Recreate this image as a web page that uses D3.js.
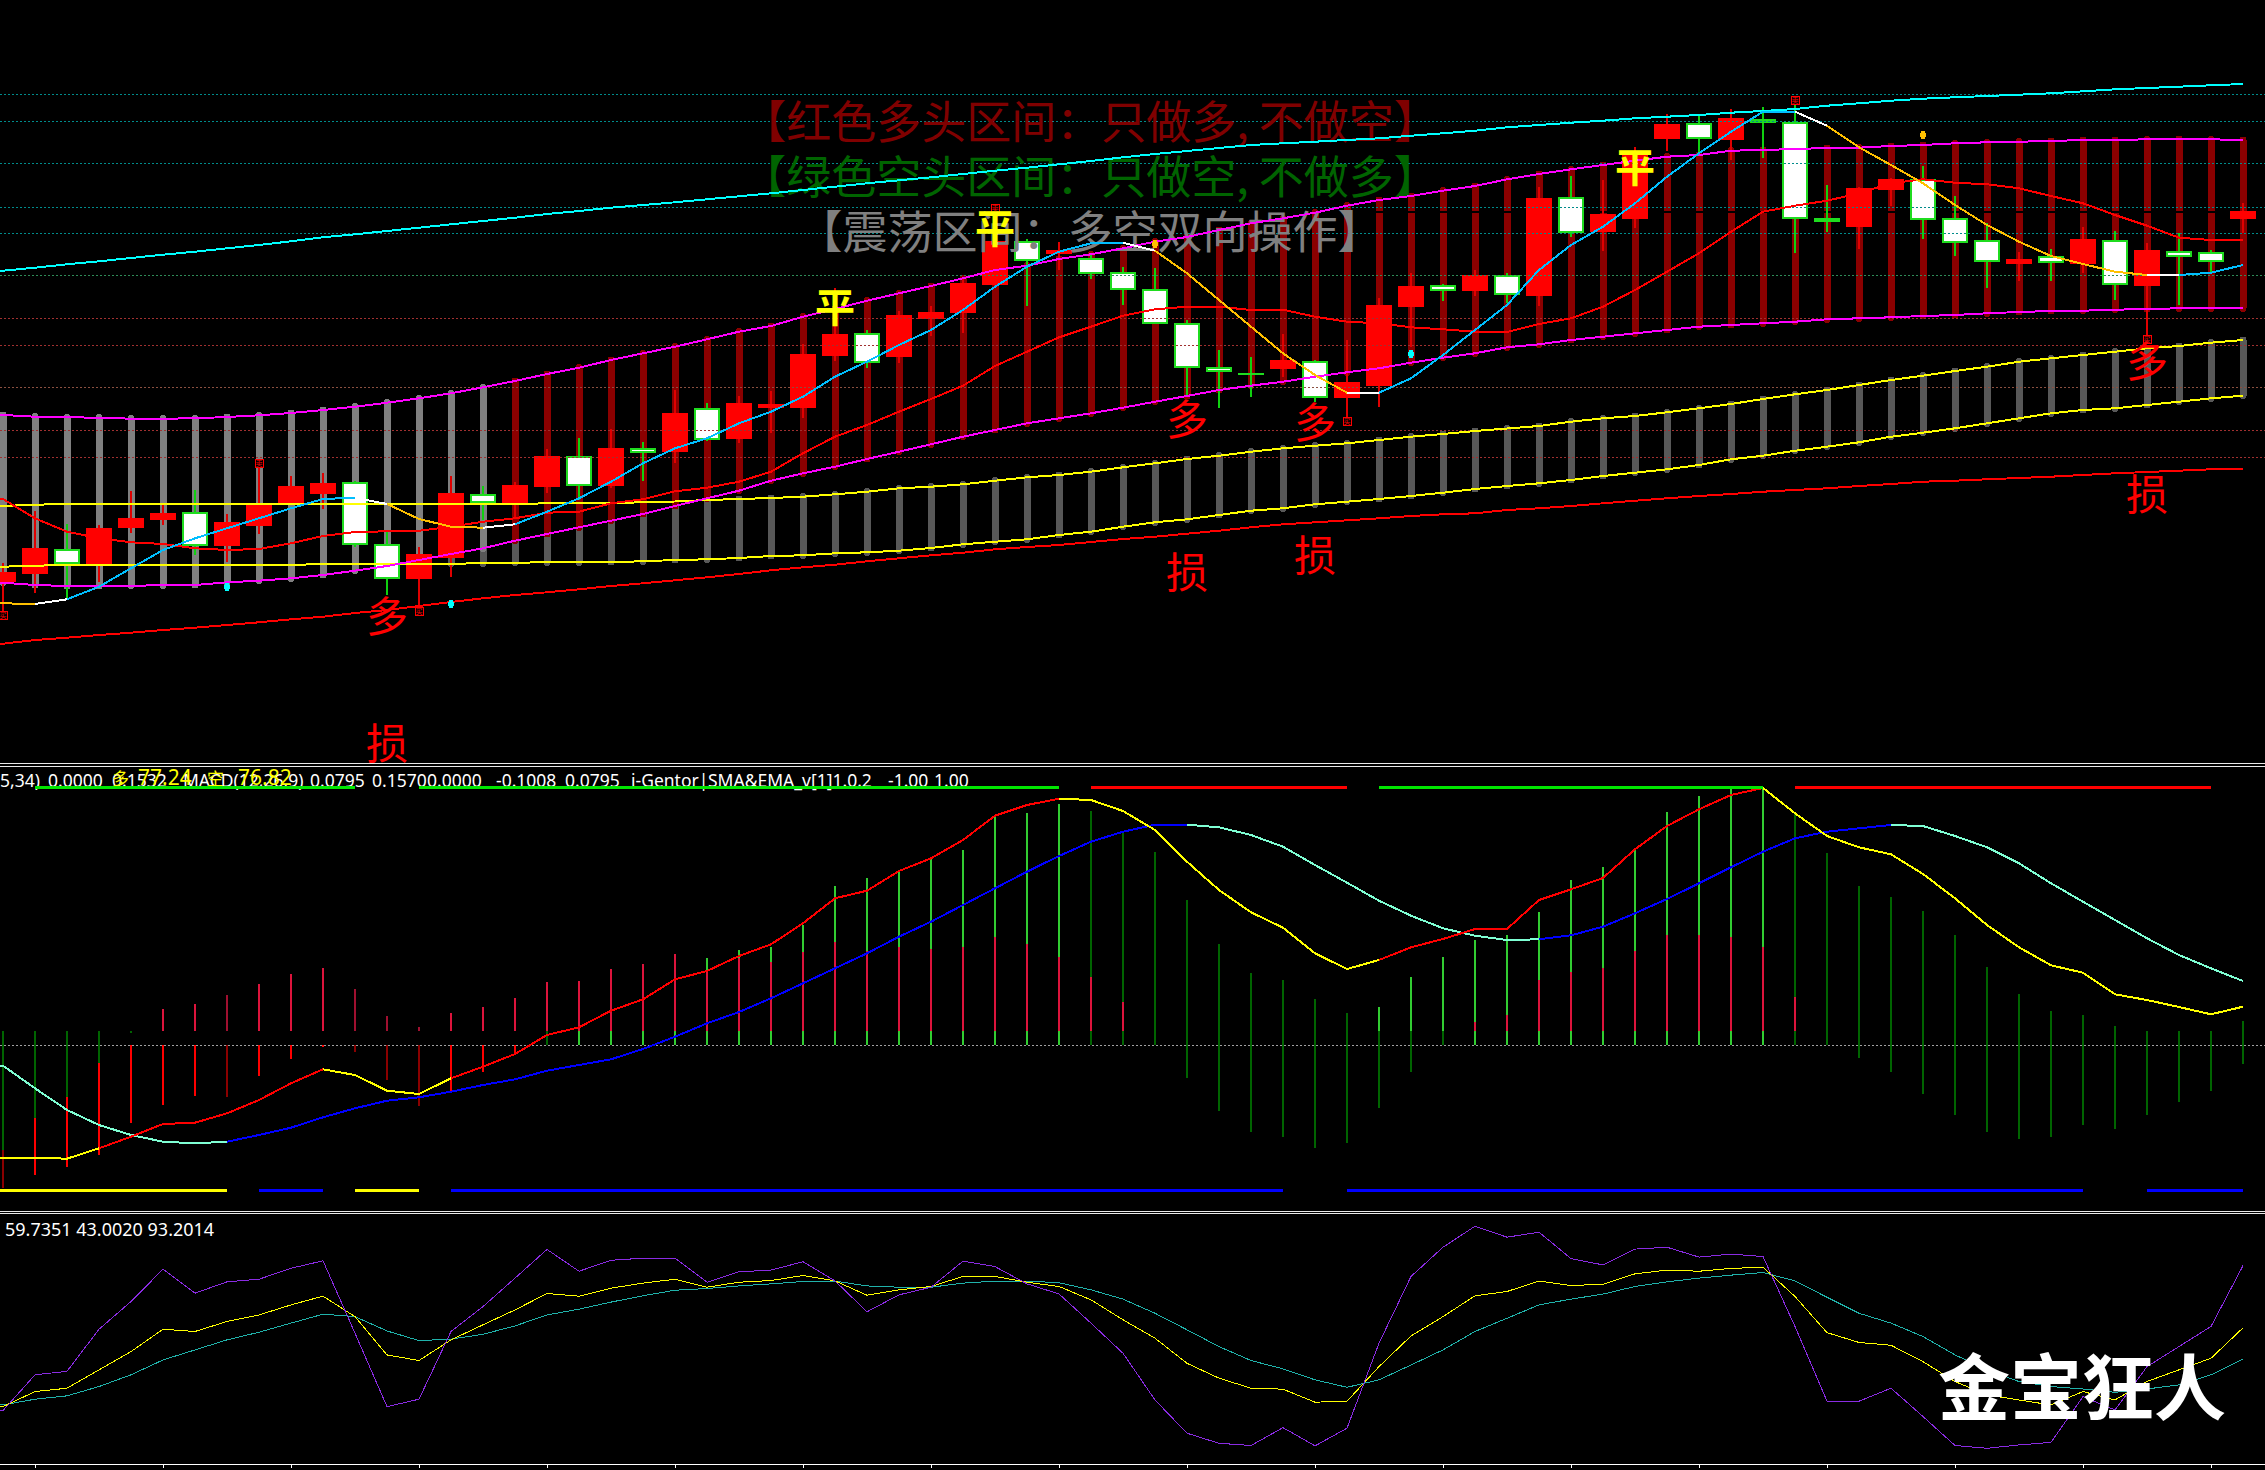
<!DOCTYPE html>
<html>
<head>
<meta charset="utf-8">
<title>金宝狂人</title>
<script src="https://cdn.jsdelivr.net/npm/d3@7"></script>
<style>
  html, body { margin: 0; padding: 0; background: #000; overflow: hidden; }
  svg { display: block; shape-rendering: crispEdges; }
</style>
</head>
<body>
<svg id="canvas" width="2265" height="1470"></svg>
<script>
"use strict"

// Candles (71 bars). Price unit is arbitrary, the reference has no price axis
const open = [
  182,190,213,200,236,244,250,218,238,260,
  270,280,218,185,206,268,259,277,306,278,
  314,312,354,325,356,356,408,429,407,445,
  451,479,521,510,504,490,473,439,395,389,
  395,401,366,378,457,477,473,487,468,565,
  532,545,625,639,624,643,640,544,537,574,
  583,544,522,500,506,500,522,478,511,510,545];
const close = [
  190,214,200,234,244,249,218,240,258,276,
  279,219,185,208,269,261,277,306,278,314,
  311,349,324,359,358,408,428,401,447,450,
  479,521,503,512,490,474,440,396,392,388.5,
  402,366,380,457,476,473,487,469,564,531,
  548,610,638,625,644,641,545,542,574,583,
  544,521,502,503,501,523,479,512,507,502,551];
const high = [
  200,252,239,238,272,258,273,249,298,287,
  290,282,231,216,287,277,281,314,325,334,
  321,373,360,367,372,419,475,433,452,457,
  486,556,524,521,510,496,495,443,413,406,
  429,403,423,465,490,479,493,490,576,587,
  583,616,649,648,654,656,660,578,576,585,
  597,567,540,511,514,536,532,520,530,513,560];
const low = [
  150,170,164,181,230,238,208,201,229,260,
  254,216,168,156,186,243,246,270,263,275,
  282,300,322,320,330,345,402,395,400,427,
  430,476,457,493,484,458,440,366,355,366,
  386,361,343,356,416,462,467,460,457,526,
  512,535,612,608,603,605,510,531,514,557,
  524,507,475,482,482,490,463,426,458,490,530];

// Channel lines on the price pane
const cyanLine = [
  492.3,495.3,498.7,501.7,505,508.3,511.3,514.7,518,521.7,
  525.7,528.7,532,535.3,538.7,542,545.3,549,552,555.3,
  558,560.7,563.7,566.7,569.7,573,576.3,579.7,582.7,585.7,
  589,592.3,595.3,598.7,602,605.7,609,612,615,618,
  619.7,621.3,623,624.7,627.3,629.7,632.3,635.7,638,640.3,
  642.3,644.7,646.3,648,650.3,652,654,657.3,659.7,662.3,
  664.3,665.7,667,668.3,669.7,671.7,673.7,675,676.3,677.7,679];
const bandUpper = [
  348,346.3,345.7,345.3,344.3,344.3,344.7,346,347.7,350,
  353,356.3,360.3,364.7,369.7,375.7,382,389,395.3,403,
  409.7,416.3,423.7,431.3,437,446.3,454,462.3,469.7,477,
  484.7,493,497.3,504,508.7,514.7,521.3,526,533,539.7,
  544.7,550.3,557.3,563,567,572.3,577,583.7,589,593.7,
  598,602.3,606.3,608,612.3,613,614,615,615.3,617,
  618,619.7,620.7,621.3,622,623,623,623.7,624,623.7,623];
const bandLower = [
  180.3,178,177,177,177.3,177.7,178,180.7,182.3,184.7,
  188,192.3,197,203,209,214.7,222.3,229,235.7,242.3,
  249,257,264.7,272.3,282.3,289.7,296.3,304,311.3,318.7,
  326.3,333,339.7,344.7,349.7,355.3,361.3,367,373,377.3,
  381.3,386.3,390.7,394.7,400.3,405.3,409.7,415.7,418.7,423,
  426.3,429.7,433,436.3,438,439.7,441.3,443.7,444.7,445.7,
  447,448,449.7,451,452,452.3,453.3,454,454.7,454.7,454.7];
const yellowUpper = [
  257,258.3,259,259,259,259,259,259,259,259,
  259,259,259,259,259,259,259,259.7,260,260,
  260.7,261.5,263,264,265,266.3,268.7,271.3,274.7,276.3,
  278.7,282.3,285.7,288,291.3,295.7,299.7,304,307.3,311.3,
  314.7,317.3,319.7,323,326.3,329,332,334.5,337,341.3,
  344.7,347,350.7,354.7,359,364,368.7,373,378,383,
  387.3,392,396.3,401.3,404.7,408,411.3,414.7,417,420.3,423];
const yellowLower = [
  196.3,197.3,198,198,198,198,198,198,198,198.3,
  198.7,199,199,199,199.3,199.7,200.3,200.7,200.7,201,
  201.7,203,203.7,205,207,207.7,209.7,210.7,212.3,215,
  218.7,221.3,223.7,228,231.3,236.3,240.7,243.7,248,252.3,
  254.7,258.7,261.3,264,267,270.3,274,277,279.7,283,
  287,290.3,293.7,298,303.7,307.3,312.3,316.3,320.7,326.3,
  330.3,334.7,339.7,344.7,349.7,353,354.7,358,361.3,364.7,367.3];
const stopLine = [
  119.3,123,125.3,128,130.3,133,135.3,138,140.7,143.7,
  146.3,150,153,157,161,164.7,168,170.7,173.7,177,
  179.7,182.7,185.7,189,192.7,195.7,198.3,201.7,204.7,207.7,
  210.3,213.7,216,218,221,224,226.3,229.3,232.3,235.7,
  238.7,240.7,242.7,244.7,247,248.7,249.7,253,254.7,257,
  259.7,262.3,264.7,267,269,271.3,273,274.7,277,279,
  281.3,282.3,283.7,285,286.3,288,289.7,291,292.3,293.7,294.3];

// Moving averages
const fastMa = [
  159.7,159,163.7,176.3,194.7,213,224.7,234.7,244.7,254.7,
  264,265.3,259,244,236.3,235.3,238.7,251.3,264.7,281.3,
  299.7,314.7,324.7,339.7,351.3,366.3,386.3,401.3,418,433,
  453,476.3,496.3,511.3,519.7,520.3,512.3,489.7,463,436.3,
  409.7,388,370.3,370.3,384.7,408,433,458,493,518,
  536.3,559.7,586.3,609.7,631.3,651.3,651.3,637.3,615.7,598,
  579.7,558,538,521.3,507,499,491.3,488,488,490.3,498];
const fastMaRuns = [
  [0,1,"down"],[1,2,"flat"],[2,11,"up"],[11,12,"flat"],[12,15,"down"],[15,16,"flat"],
  [16,35,"up"],[35,36,"flat"],[36,42,"down"],[42,43,"flat"],[43,56,"up"],[56,57,"flat"],
  [57,67,"down"],[67,68,"flat"],[68,70,"up"]];
const redMa = [
  264,244.7,231.3,224.7,220.7,219,214.7,213,214,219.7,
  227,231,231.7,232.3,236.3,241.3,244.7,250.3,251.3,259.7,
  263.7,271.7,275.3,281.3,291.3,309.7,326.3,338,351.3,364,
  377.3,397,411.3,425.7,436.3,447.3,453.7,456.3,456.3,453,
  453.3,446.3,441.3,439.7,435.7,433.7,431.3,431,439,444.7,
  456.3,473,491.3,509.7,531.3,551.3,557.3,562.3,569.7,579.7,
  583.7,580.3,578.7,574.7,567,559.7,548,537.3,525.3,523,523];

// Horizontal grid levels and their kind
const gridLevels = [669,642,600,556,530,488,445,418,376,333,306];
const gridKinds = ["teal","teal","teal","teal","teal","green","red","red","brown","red","red"];

// Signals: bar index and price level
const cyanDotBars = [7,14,44];
const cyanDotVals = [176,159,409];
const goldDotBars = [36,60];
const goldDotVals = [519,628];
const boxBars = [0,8,13,31,42,56,67];
const boxVals = [148,300,152,555,342,663,424];
const boxLabels = ["买","卖","买","卖","买","卖","买"];
const duoBars = [12,37,41,67];
const duoVals = [147,344,341,402];
const sunBars = [12,37,41,67];
const sunVals = [20,191,208,269];
const pingBars = [26,31,51];
const pingVals = [453,532,593];

// MACD histogram pieces
const brightHi = [
  0,0,0,0,0,0,0,0,0,0,
  0,0,0,0,0,0,0,0,14,14,
  14,14,86.7,95,98.3,120,159,166.7,174.3,185.7,
  195,229.3,232.3,241,0,0,0,0,0,0,
  0,0,0,38,67.7,88,105,110,132.7,165,
  178,196.7,233.3,249,255.7,255.7,0,0,0,0,
  0,0,0,0,0,0,0,0,0,0,0];
const brightLo = [
  0,0,0,0,0,0,0,0,0,0,
  0,0,0,0,0,0,0,0,0,0,
  0,0,0,0,0,0,0,0,0,0,
  0,0,0,0,0,0,0,0,0,0,
  0,0,0,14,14,14,0,0,0,0,
  0,0,0,0,0,0,0,0,0,0,
  0,0,0,0,0,0,0,0,0,0,0];
const darkHi = [
  14,14,14,14,14,0,0,0,0,0,
  0,0,0,0,0,0,0,14,0,0,
  0,0,0,0,0,0,0,0,0,0,
  0,0,0,0,234,213.3,193,145,101,71.7,
  65,46,31.7,14,14,14,0,0,0,0,
  0,0,0,0,0,0,231.7,192.3,159,148,
  134,110,78,51,34,30,19,14,14,14,24];
const darkLo = [
  -105,-73.3,-51.7,-18.3,11.7,0,0,0,0,0,
  0,0,0,0,0,0,0,0,0,0,
  0,0,0,0,0,0,0,0,0,0,
  0,0,0,0,0,0,0,-33.3,-65.7,-86.7,
  -91.7,-102.7,-98.3,-62.7,-26.7,0,0,0,0,0,
  0,0,0,0,0,0,0,0,-12.7,-26.7,
  -49,-70,-86.7,-93.7,-91.7,-80,-84,-70,-56.7,-45.7,-19];
const redHi = [
  14,14,14,14,14,36,41,50,61,71,
  77,56,29,18.3,32,38,47,63,64,76,
  81,91,74,86.7,83.3,93.3,103.3,94,98.3,96,
  98.3,107.7,101,87.7,67.7,42.7,14,14,14,14,
  14,14,14,14,14,14,23.3,30,65,73.3,
  77.3,94,110,110,107.7,98.3,48.3,14,14,14,
  14,14,14,14,14,14,14,14,14,14,14];
const redLoTop = [
  -105,-73.3,-51.7,-18.3,0,0,0,0,0,0,
  0,0,0,0,0,0,0,0,0,0,
  0,0,0,0,0,0,0,0,0,0,
  0,0,0,0,0,0,0,0,0,0,
  0,0,0,0,0,0,0,0,0,0,
  0,0,0,0,0,0,0,0,0,0,
  0,0,0,0,0,0,0,0,0,0,0];
const redLoBot = [
  -143.3,-130,-121.7,-110,-78.3,-60,-50.7,-51.7,-30.7,-14,
  -2.3,-6.7,-35,-60.7,-46.7,-27.3,-8.3,0,0,0,
  0,0,0,0,0,0,0,0,0,0,
  0,0,0,0,0,0,0,0,0,0,
  0,0,0,0,0,0,0,0,0,0,
  0,0,0,0,0,0,0,0,0,0,
  0,0,0,0,0,0,0,0,0,0,0];
const dimRedBars = [0,7,11,12,13];

// MACD lines
const macdFast = [
  -113.3,-112.7,-113.7,-103.3,-91.7,-79,-77.7,-68.3,-55,-38.3,
  -24.3,-30,-45.7,-49,-33.3,-21.7,-9,10,17.7,34.3,
  45.7,65.7,74,89,100.7,121.7,146.7,154.3,174,186.7,
  205,229.3,240,246.3,245,234,215,183.3,155,132.7,
  117.3,91.7,76,85,97.7,106,116,116,145,155.7,
  167,195.7,219,235.7,250,257,231.7,209,197.7,190.7,
  171,146.7,120,97.7,79.7,72.3,50.7,45,38,30.7,38.3];
const macdFastRuns = [
  [0,3,"falling"],[3,10,"rising"],[10,14,"falling"],[14,33,"rising"],
  [33,43,"falling"],[43,55,"rising"],[55,70,"falling"]];
const macdSlow = [
  -20.7,-43.3,-65,-80,-90,-96.7,-98.3,-96.7,-90,-82.7,
  -72.3,-63.3,-55.7,-52.3,-46.7,-40,-34.3,-25.7,-20,-14.3,
  -4,8.3,21.7,33,46.7,61.7,76.7,91.7,108.3,123.3,
  140,156.7,173.3,189,203.3,213.3,220.3,220.3,217.7,210,
  198.3,180,162.3,144.3,129.3,116.7,109.3,105,105.7,109.7,
  118.3,131.7,146,161.7,177.7,193.3,206.7,213.3,216.7,220,
  219,209,197.7,181.7,161.7,143.3,125,106.7,90,76.7,64];
const macdSlowRuns = [
  [0,7,"falling"],[7,37,"rising"],[37,48,"falling"],[48,59,"rising"],[59,70,"falling"]];

// State strips above and below the MACD pane
const topStrip = [[1,11,"long"],[13,33,"long"],[34,42,"short"],[43,55,"long"],[56,69,"short"]];
const bottomStrip = [[0,7,"weak"],[8,10,"strong"],[11,13,"weak"],[14,40,"strong"],[42,65,"strong"],[67,70,"strong"]];

// Stochastic pane
const stochJ = [
  15.3,34.5,36.4,59,73.9,91.3,78.4,84.5,85.9,91.8,
  95.8,56.9,17.4,21.4,57.8,71.2,86.5,101.9,90.2,96.1,
  97.2,97.2,84.3,89.9,90.8,95.3,85,68.4,77.5,81.6,
  95.6,92.7,83.4,78,62.3,46.1,21,3.1,-2.3,-3.5,
  6.1,-3.7,5.8,51.5,87.4,103.1,114.4,108.5,111.2,97,
  93.6,102.1,103.1,97.8,99.4,98.1,60.5,20.3,20.3,27.3,
  12.1,-3.5,-5,-3.2,-1.8,22.8,15.6,38.9,49.7,60.5,93.2014];
const stochK = [
  17.4,25.5,27.3,37.2,47,59,57.8,63.2,66.7,72.1,
  76.8,65.8,45.2,42.2,53.3,61.4,69.4,78.2,76.8,81.1,
  83.8,85.9,81.6,84.3,85.2,87.9,85,77.3,80.2,82,
  87.4,87.4,84.3,82,74.8,64.1,54.2,40.7,32.7,27.3,
  26.8,19.8,20.3,38.9,55.4,65.8,77,79.3,84.9,82.5,
  83.2,88.8,90.8,90.2,91.7,92.4,76.6,57.2,51.9,50.4,
  41.6,30.9,23.7,21,18.3,25.5,21,30.9,37.2,43.4,59.7351];
const stochD = [
  18.3,21.4,23.2,28.2,34.5,42.5,47.9,53.3,57.4,62.3,
  67.1,65.8,58.1,52.9,53.7,56.3,60.8,66.7,69.8,73.6,
  77,80,80.9,82.3,83.4,84.7,84.9,82.3,81.6,81.6,
  83.8,84.9,84.9,84,80.2,75.2,67.6,58.7,49.7,42.2,
  37.7,31.8,27.8,31.8,39.8,47.9,57.8,64.9,72.1,75.2,
  77.9,82,84.5,86.5,88.1,89.5,85,76.2,67.6,62.3,
  55.1,45.2,37.2,30.9,28.2,26.9,25.1,26.9,29.1,34.5,43.002];

// Text labels
const noticeLines = ["【红色多头区间：只做多, 不做空】","【绿色空头区间：只做空, 不做多】","【震荡区间：多空双向操作】"];
const macdHeader = ["5,34)","0.0000","0.1532","MACD(12,26,9)","0.0795","0.1570","0.0000","-0.1008","0.0795","i-Gentor|","SMA&EMA_v[1]1.0.2","-1.00","1.00"];
const macdHeaderX = [0,48,112,183,310,372,427,496,565,631,708,888,934];
const stochHeader = "59.7351 43.0020 93.2014";
const priceTags = ["多","77.24","空","76.82"];
const priceTagsX = [112,138,207,238];

const width = 2265;
const height = 1470;
const CJK = '"Noto Sans CJK SC", sans-serif';

const drawing = d3.select("#canvas");
drawing.append("rect").attr("width", width).attr("height", height).attr("fill", "#000");

// Same bar positions on all three panes
const barIndex = d3.range(open.length);
const x = d3.scaleLinear().domain([0, 70]).range([3, 2243]);
const yPrice = d3.scaleLinear().domain([0, 763]).range([763, 0]);
const yMacd = d3.scaleLinear().domain([0, 295]).range([1045, 750]);
const yStoch = d3.scaleLinear().domain([0, 100]).range([1439, 1253]);

const bodyWidth = 24;

// Draws one series in one colour. The first point is carried to the window edge
function drawLine(values, y, color, lineWidth) {
    const line = d3.line()
        .x((d, i) => i === 0 ? 0 : x(i - 1))
        .y(d => y(d));
    return drawing.append("path")
        .attr("d", line([values[0]].concat(values)))
        .attr("fill", "none")
        .attr("stroke", color)
        .attr("stroke-width", lineWidth)
        .attr("stroke-linejoin", "round");
}

// Same, but coloured by runs of bars
function drawRuns(values, y, runs, colors, lineWidth) {
    const line = d3.line().x(d => d < 0 ? 0 : x(d)).y(d => y(values[Math.max(d, 0)]));
    runs.forEach(run => {
        const from = run[0] === 0 ? -1 : run[0];
        drawing.append("path")
            .attr("d", line(d3.range(from, run[1] + 1)))
            .attr("fill", "none")
            .attr("stroke", colors[run[2]])
            .attr("stroke-width", lineWidth)
            .attr("stroke-linejoin", "round");
    });
}

/* ========== PRICE PANE ========== */

// Grey bars between the yellow lines
drawing.append("g").selectAll("line").data(barIndex).join("line")
    .attr("x1", d => x(d)).attr("x2", d => x(d))
    .attr("y1", d => yPrice(yellowUpper[d]))
    .attr("y2", d => yPrice(yellowLower[d]))
    .attr("stroke", "#585858")
    .attr("stroke-width", 7)
    .attr("stroke-linecap", "round");

// Range bars between the magenta lines, grey first then dark red
drawing.append("g").selectAll("line").data(barIndex).join("line")
    .attr("x1", d => x(d)).attr("x2", d => x(d))
    .attr("y1", d => yPrice(bandUpper[d]))
    .attr("y2", d => yPrice(bandLower[d]))
    .attr("stroke", d => d < 16 ? "#808080" : "#8b0000")
    .attr("stroke-width", 7)
    .attr("stroke-linecap", "round");

// Small black gap through the dark red bars
drawing.append("line")
    .attr("x1", x(43) - 5).attr("x2", x(70) + 5)
    .attr("y1", yPrice(551)).attr("y2", yPrice(551))
    .attr("stroke", "#000").attr("stroke-width", 1.5);

// Candle wicks
drawing.append("g").selectAll("line").data(barIndex).join("line")
    .attr("x1", d => x(d)).attr("x2", d => x(d))
    .attr("y1", d => yPrice(high[d]))
    .attr("y2", d => yPrice(low[d]))
    .attr("stroke", d => close[d] >= open[d] ? "#e00000" : "#10d010")
    .attr("stroke-width", 1.2);

// Candle bodies
drawing.append("g").selectAll("rect").data(barIndex).join("rect")
    .attr("x", d => x(d) - bodyWidth / 2)
    .attr("y", d => yPrice(Math.max(open[d], close[d])))
    .attr("width", bodyWidth)
    .attr("height", d => Math.abs(yPrice(open[d]) - yPrice(close[d])))
    .attr("fill", d => close[d] >= open[d] ? "#ff0000" : "#ffffff")
    .attr("stroke", d => close[d] >= open[d] ? "#ff0000" : "#1fdc1f")
    .attr("stroke-width", 1.2);

// Dashed grid goes over the candles
const gridColors = { teal: "#008b8b", green: "#2e8b57", red: "#a03030", brown: "#8b5040" };
drawing.append("g").selectAll("line").data(gridLevels).join("line")
    .attr("x1", 0).attr("x2", width)
    .attr("y1", d => yPrice(d)).attr("y2", d => yPrice(d))
    .attr("stroke", (d, i) => gridColors[gridKinds[i]])
    .attr("stroke-width", 1)
    .attr("stroke-dasharray", "2,2");

// Notice text
const noticeColors = ["#800000", "#006400", "#808080"];
const noticeY = [119, 174, 229];
noticeLines.forEach((t, i) => {
    drawing.append("text")
        .attr("x", 1090).attr("y", noticeY[i])
        .attr("text-anchor", "middle")
        .attr("dominant-baseline", "central")
        .attr("font-family", CJK)
        .attr("font-size", 45)
        .attr("fill", noticeColors[i])
        .text(t);
});

// Channel and average lines
drawLine(stopLine, yPrice, "#ff0000", 2);
drawLine(cyanLine, yPrice, "#00ffff", 2);
drawLine(yellowLower, yPrice, "#ffff00", 2);
drawLine(yellowUpper, yPrice, "#ffff00", 2);
drawLine(bandLower, yPrice, "#ff00ff", 2);
drawLine(bandUpper, yPrice, "#ff00ff", 2);
drawLine(redMa, yPrice, "#ff0000", 2);
drawRuns(fastMa, yPrice, fastMaRuns, { up: "#00bfff", flat: "#ffffff", down: "#ffc000" }, 2);

// Signal dots
drawing.append("g").selectAll("ellipse").data(cyanDotBars).join("ellipse")
    .attr("cx", d => x(d))
    .attr("cy", (d, i) => yPrice(cyanDotVals[i]))
    .attr("rx", 3).attr("ry", 4)
    .attr("fill", "#00ffff");
drawing.append("g").selectAll("ellipse").data(goldDotBars).join("ellipse")
    .attr("cx", d => x(d))
    .attr("cy", (d, i) => yPrice(goldDotVals[i]))
    .attr("rx", 3).attr("ry", 4)
    .attr("fill", "#ffc000");

// Small boxed signals
boxBars.forEach((b, i) => {
    drawing.append("rect")
        .attr("x", x(b) - 4).attr("y", yPrice(boxVals[i]) - 4)
        .attr("width", 8).attr("height", 8)
        .attr("fill", "#000").attr("stroke", "#ff0000").attr("stroke-width", 1);
    drawing.append("text")
        .attr("x", x(b)).attr("y", yPrice(boxVals[i]) + 3)
        .attr("text-anchor", "middle")
        .attr("font-family", CJK).attr("font-size", 7)
        .attr("fill", "#ff0000")
        .text(boxLabels[i]);
});

// Big chart labels
function drawMarks(bars, vals, label, color, size, bold, lift) {
    drawing.append("g").selectAll("text").data(bars).join("text")
        .attr("x", d => x(d))
        .attr("y", (d, i) => yPrice(vals[i]) - lift)
        .attr("text-anchor", "middle")
        .attr("dominant-baseline", "central")
        .attr("font-family", CJK)
        .attr("font-size", size)
        .attr("font-weight", bold ? 700 : 400)
        .attr("fill", color)
        .text(label);
}
drawMarks(duoBars, duoVals, "多", "#ff0000", 42, false, 3);
drawMarks(sunBars, sunVals, "损", "#ff0000", 42, false, 3);
drawMarks(pingBars, pingVals, "平", "#ffff00", 40, true, 5);

/* ========== MACD PANE ========== */

// Pane separators
[763.5, 766, 1211, 1213.5].forEach(y => {
    drawing.append("line")
        .attr("x1", 0).attr("x2", width)
        .attr("y1", y).attr("y2", y)
        .attr("stroke", "#e8e8e8").attr("stroke-width", 1);
});

// Header text and the yellow long/short values on top of it
macdHeader.forEach((t, i) => {
    drawing.append("text")
        .attr("x", macdHeaderX[i]).attr("y", 787)
        .attr("font-family", '"Noto Sans", sans-serif')
        .attr("font-size", 17.5)
        .attr("fill", "#ffffff")
        .text(t);
});
priceTags.forEach((t, i) => {
    drawing.append("text")
        .attr("x", priceTagsX[i]).attr("y", 785)
        .attr("font-family", i % 2 ? '"Noto Sans", sans-serif' : CJK)
        .attr("font-size", i % 2 ? 21 : 17)
        .attr("fill", "#ffff00")
        .text(t);
});

// Zero line
drawing.append("line")
    .attr("x1", 0).attr("x2", width)
    .attr("y1", yMacd(0)).attr("y2", yMacd(0))
    .attr("stroke", "#a0a0a0").attr("stroke-width", 1)
    .attr("stroke-dasharray", "2,2");

// Histogram pieces, drawn back to front
function drawHist(hi, lo, color, lineWidth) {
    drawing.append("g").selectAll("line").data(barIndex.filter(d => hi[d] !== lo[d])).join("line")
        .attr("x1", d => x(d)).attr("x2", d => x(d))
        .attr("y1", d => yMacd(hi[d]))
        .attr("y2", d => yMacd(lo[d]))
        .attr("stroke", color)
        .attr("stroke-width", lineWidth);
}
const redBase = barIndex.map(() => 14);
drawHist(brightHi, brightLo, "#32cd32", 1.6);
drawHist(darkHi, darkLo, "#006400", 1.6);
drawHist(redHi, redBase, d => dimRedBars.includes(d) ? "#a01030" : "#dc143c", 1.6);
drawHist(redLoTop, redLoBot, d => dimRedBars.includes(d) ? "#8b0000" : "#ff0000", 1.6);

// MACD lines
drawRuns(macdSlow, yMacd, macdSlowRuns, { rising: "#0000ff", falling: "#7fffd4" }, 2);
drawRuns(macdFast, yMacd, macdFastRuns, { rising: "#ff0000", falling: "#ffff00" }, 2);

// State strips
const topColors = { long: "#00e600", short: "#ff0000" };
const bottomColors = { weak: "#ffff00", strong: "#0000ff" };
topStrip.forEach(run => {
    drawing.append("line")
        .attr("x1", x(run[0])).attr("x2", x(run[1]))
        .attr("y1", 787).attr("y2", 787)
        .attr("stroke", topColors[run[2]]).attr("stroke-width", 3);
});
bottomStrip.forEach(run => {
    drawing.append("line")
        .attr("x1", run[0] === 0 ? 0 : x(run[0])).attr("x2", x(run[1]))
        .attr("y1", 1190).attr("y2", 1190)
        .attr("stroke", bottomColors[run[2]]).attr("stroke-width", 3);
});

/* ========== STOCHASTIC PANE ========== */

drawLine(stochD, yStoch, "#20b2aa", 1);
drawLine(stochK, yStoch, "#ffff00", 1);
drawLine(stochJ, yStoch, "#8a2be2", 1);

drawing.append("text")
    .attr("x", 5).attr("y", 1236)
    .attr("font-family", '"Noto Sans", sans-serif')
    .attr("font-size", 18)
    .attr("fill", "#ffffff")
    .text(stochHeader);

// Watermark
drawing.append("text")
    .attr("x", 2082).attr("y", 1382)
    .attr("text-anchor", "middle")
    .attr("dominant-baseline", "central")
    .attr("font-family", CJK)
    .attr("font-size", 72)
    .attr("font-weight", 700)
    .attr("fill", "#ffffff")
    .text("金宝狂人");

// Time axis along the bottom, ticks only
const timeAxis = d3.axisBottom(x)
    .tickValues(d3.range(1, 71, 4))
    .tickSize(4)
    .tickFormat("");
const axisGroup = drawing.append("g")
    .attr("transform", "translate(0,1464)")
    .call(timeAxis);
axisGroup.select(".domain").remove();
axisGroup.selectAll("line").attr("stroke", "#ffffff");
drawing.append("line")
    .attr("x1", 0).attr("x2", width)
    .attr("y1", 1464).attr("y2", 1464)
    .attr("stroke", "#ffffff").attr("stroke-width", 1);
</script>
</body>
</html>
